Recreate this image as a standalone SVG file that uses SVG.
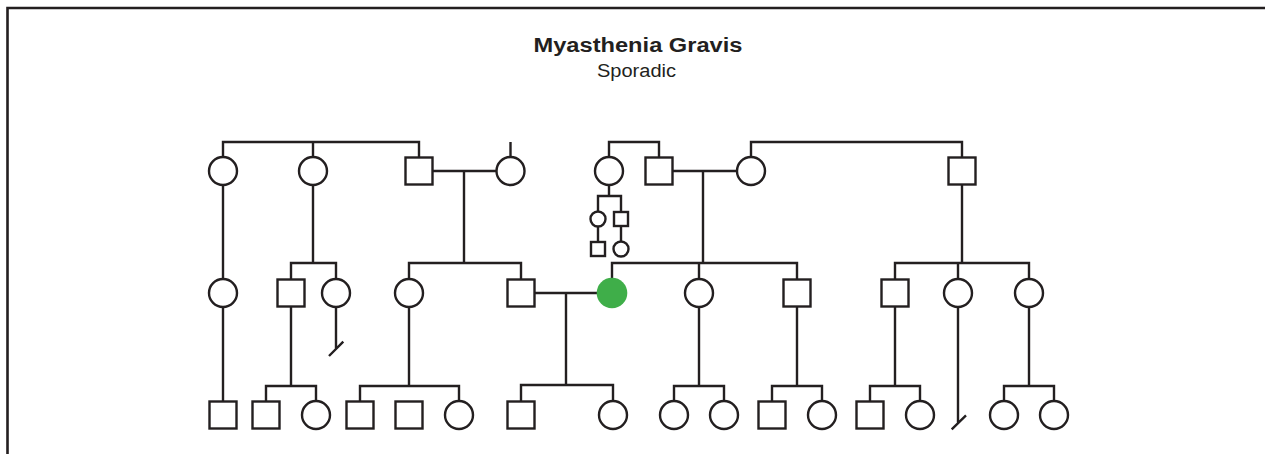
<svg xmlns="http://www.w3.org/2000/svg" width="1265" height="454" viewBox="0 0 1265 454">
<style>
.n{fill:#fff;stroke:#231f20;stroke-width:2.4}
.a{fill:#3fae49;stroke:none}
.l{fill:none;stroke:#231f20;stroke-width:2.4;stroke-linecap:butt}
.t{font-family:"Liberation Sans",Arial,sans-serif;fill:#231f20;text-anchor:middle}
</style>
<rect width="1265" height="454" fill="#fff"/>
<path d="M7.5,454 V8 H1265" fill="none" stroke="#231f20" stroke-width="2.6"/>
<text class="t" x="638" y="51.5" font-size="19.5" font-weight="bold" textLength="209" lengthAdjust="spacingAndGlyphs">Myasthenia Gravis</text>
<text class="t" x="636.5" y="77" font-size="18" textLength="79" lengthAdjust="spacingAndGlyphs">Sporadic</text>
<g id="connectors" class="l">
<path d="M223,157 V142 H419 V157 M313,142 V157"/>
<path d="M510.5,142 V157"/>
<path d="M609,157 V142 H659 V157"/>
<path d="M751,157 V142 H962 V157"/>
<path d="M432.5,171 H496.5 M464,171 V263"/>
<path d="M672.5,171 H737 M703,171 V263"/>
<path d="M962,184.5 V263"/>
<path d="M609,185 V196 M598,211.5 V196 H621 V211.5 M598,226.5 V241.5 M621,226.5 V242"/>
<path d="M223,185 V279"/>
<path d="M313,185 V263 M291,279.5 V263 H336 V279"/>
<path d="M409,279 V263 H521 V279.5"/>
<path d="M612,278 V263 H797 V279.5 M699,263 V279"/>
<path d="M895,279.5 V263 H1029 V279 M958,263 V279"/>
<path d="M534.5,293 H597 M566,293 V385"/>
<path d="M223,307 V401.5"/>
<path d="M291,306.5 V386 M266,401.5 V386 H316 V401"/>
<path d="M336,307 V349 M329,356 L343.3,341.7"/>
<path d="M409,307 V386 M360,401.5 V386 H459 V401"/>
<path d="M521,401.5 V385 H613 V401"/>
<path d="M699,307 V386 M674,401 V386 H724 V401"/>
<path d="M797,306.5 V386 M772,401.5 V386 H822 V401"/>
<path d="M895,306.5 V386 M870,401.5 V386 H920 V401"/>
<path d="M958,307 V422.3 M951.7,429.3 L966,415.3"/>
<path d="M1029,307 V386 M1004,401 V386 H1054 V401"/>
</g>
<g id="gen1">
<g id="i1"><circle class="n" cx="223" cy="171" r="14"/></g>
<g id="i2"><circle class="n" cx="313" cy="171" r="14"/></g>
<g id="i3"><rect class="n" x="405.5" y="157.5" width="27" height="27"/></g>
<g id="i4"><circle class="n" cx="510.5" cy="171" r="14"/></g>
<g id="i5"><circle class="n" cx="609" cy="171" r="14"/></g>
<g id="i6"><rect class="n" x="645.5" y="157.5" width="27" height="27"/></g>
<g id="i7"><circle class="n" cx="751" cy="171" r="14"/></g>
<g id="i8"><rect class="n" x="948.5" y="157.5" width="27" height="27"/></g>
<g id="s1"><circle class="n" cx="598" cy="219" r="7.5"/></g>
<g id="s2"><rect class="n" x="614" y="212" width="14" height="14"/></g>
<g id="s3"><rect class="n" x="591" y="242" width="14" height="14"/></g>
<g id="s4"><circle class="n" cx="621" cy="249" r="7.5"/></g>
</g>
<g id="gen2">
<g id="ii1"><circle class="n" cx="223" cy="293" r="14"/></g>
<g id="ii2"><rect class="n" x="277.5" y="279.5" width="27" height="27"/></g>
<g id="ii3"><circle class="n" cx="336" cy="293" r="14"/></g>
<g id="ii4"><circle class="n" cx="409" cy="293" r="14"/></g>
<g id="ii5"><rect class="n" x="507.5" y="279.5" width="27" height="27"/></g>
<g id="proband"><circle class="a" cx="612" cy="293" r="15.3"/></g>
<g id="ii7"><circle class="n" cx="699" cy="293" r="14"/></g>
<g id="ii8"><rect class="n" x="783.5" y="279.5" width="27" height="27"/></g>
<g id="ii9"><rect class="n" x="881.5" y="279.5" width="27" height="27"/></g>
<g id="ii10"><circle class="n" cx="958" cy="293" r="14"/></g>
<g id="ii11"><circle class="n" cx="1029" cy="293" r="14"/></g>
</g>
<g id="gen3">
<g id="iii1"><rect class="n" x="209.5" y="401.5" width="27" height="27"/></g>
<g id="iii2"><rect class="n" x="252.5" y="401.5" width="27" height="27"/></g>
<g id="iii3"><circle class="n" cx="316" cy="415" r="14"/></g>
<g id="iii4"><rect class="n" x="346.5" y="401.5" width="27" height="27"/></g>
<g id="iii5"><rect class="n" x="395.5" y="401.5" width="27" height="27"/></g>
<g id="iii6"><circle class="n" cx="459" cy="415" r="14"/></g>
<g id="iii7"><rect class="n" x="507.5" y="401.5" width="27" height="27"/></g>
<g id="iii8"><circle class="n" cx="613" cy="415" r="14"/></g>
<g id="iii9"><circle class="n" cx="674" cy="415" r="14"/></g>
<g id="iii10"><circle class="n" cx="724" cy="415" r="14"/></g>
<g id="iii11"><rect class="n" x="758.5" y="401.5" width="27" height="27"/></g>
<g id="iii12"><circle class="n" cx="822" cy="415" r="14"/></g>
<g id="iii13"><rect class="n" x="856.5" y="401.5" width="27" height="27"/></g>
<g id="iii14"><circle class="n" cx="920" cy="415" r="14"/></g>
<g id="iii15"><circle class="n" cx="1004" cy="415" r="14"/></g>
<g id="iii16"><circle class="n" cx="1054" cy="415" r="14"/></g>
</g>
</svg>
